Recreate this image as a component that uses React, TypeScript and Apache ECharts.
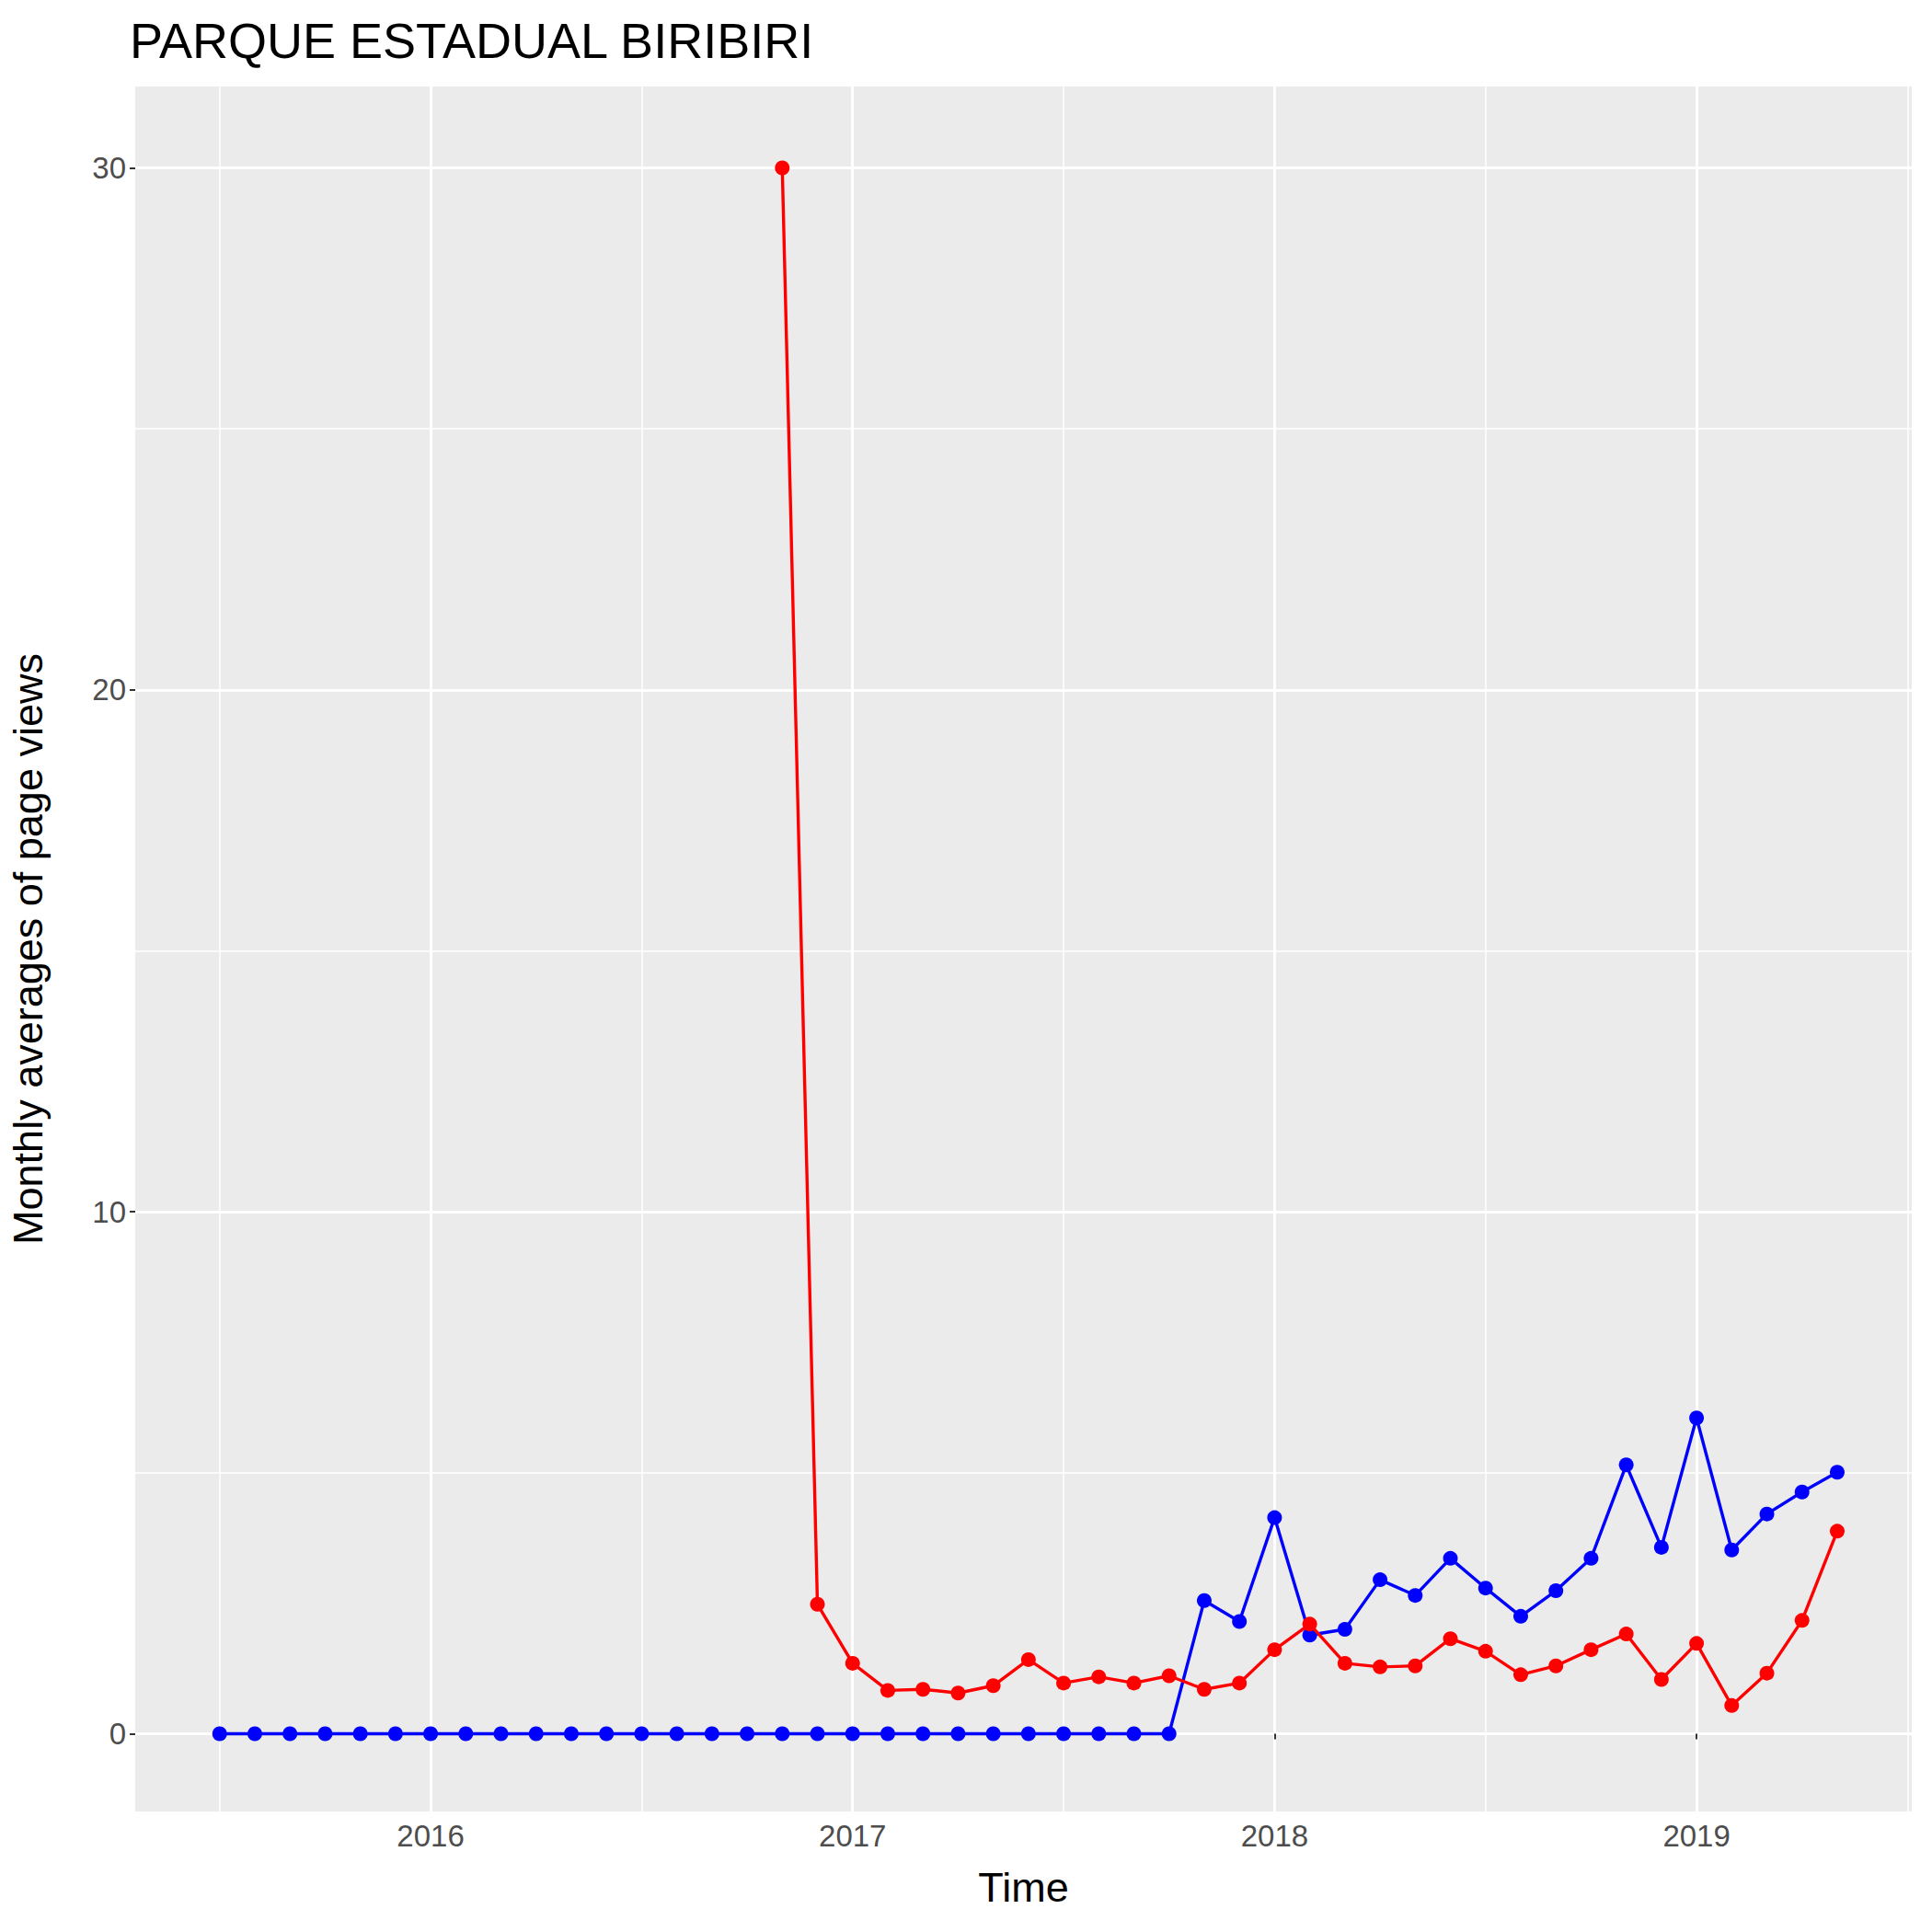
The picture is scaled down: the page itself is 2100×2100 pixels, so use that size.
import React, { useEffect, useRef } from "react";
import * as echarts from "echarts";

const blueMonths = ["2015-07","2015-08","2015-09","2015-10","2015-11","2015-12","2016-01","2016-02","2016-03","2016-04","2016-05","2016-06","2016-07","2016-08","2016-09","2016-10","2016-11","2016-12","2017-01","2017-02","2017-03","2017-04","2017-05","2017-06","2017-07","2017-08","2017-09","2017-10","2017-11","2017-12","2018-01","2018-02","2018-03","2018-04","2018-05","2018-06","2018-07","2018-08","2018-09","2018-10","2018-11","2018-12","2019-01","2019-02","2019-03","2019-04","2019-05"];
const blueValues = [0,0,0,0,0,0,0,0,0,0,0,0,0,0,0,0,0,0,0,0,0,0,0,0,0,0,0,0,2.55,2.15,4.14,1.89,2.0,2.95,2.65,3.36,2.79,2.25,2.74,3.36,5.15,3.57,6.05,3.52,4.21,4.63,5.01];
const redMonths = blueMonths.slice(16);
const redValues = [30,2.48,1.35,0.83,0.85,0.78,0.92,1.42,0.97,1.09,0.97,1.11,0.85,0.97,1.61,2.1,1.35,1.28,1.3,1.82,1.58,1.13,1.3,1.61,1.91,1.04,1.73,0.54,1.16,2.17,3.88];
const xTicks = [2016, 2017, 2018, 2019];
const xMinor = [2015.5, 2016.5, 2017.5, 2018.5, 2019.5];
const yTicks = [0, 10, 20, 30];
const yMinor = [5, 15, 25];

const toX = (m: string) => { const [y, mo] = m.split("-").map(Number); return y + (mo - 1) / 12; };

export default function App() {
  const ref = useRef<HTMLDivElement>(null);
  useEffect(() => {
    document.body.style.margin = "0";
    const chart = echarts.init(ref.current!, null, { renderer: "svg" });
    const font = "Liberation Sans, Arial, sans-serif";
    const gl = (v: number[], axis: "x" | "y", w: number) =>
      v.map((val) => ({ [axis === "x" ? "xAxis" : "yAxis"]: val, lineStyle: { color: "#fff", width: w, type: "solid" } }));
    chart.setOption({
      animation: false,
      title: { text: "PARQUE ESTADUAL BIRIBIRI", left: 136, top: 12, textStyle: { fontFamily: font, fontWeight: "normal", fontSize: 54, color: "#000" } },
      grid: { left: 139, right: 22, top: 94, bottom: 131, show: true, backgroundColor: "#EBEBEB", borderWidth: 0 },
      xAxis: {
        type: "value", min: 2015.3, max: 2019.51,
        name: "Time", nameLocation: "middle", nameGap: 60,
        nameTextStyle: { fontFamily: font, fontSize: 45, color: "#000" },
        axisLine: { show: false }, splitLine: { show: false },
        axisTick: { show: true, customValues: xTicks, length: 6, lineStyle: { color: "#333", width: 2 } },
        axisLabel: { customValues: xTicks, fontFamily: font, fontSize: 33, color: "#4D4D4D", margin: 10, formatter: (v: number) => String(Math.round(v)) },
      },
      yAxis: {
        type: "value", min: -1.49, max: 31.56,
        name: "Monthly averages of page views", nameLocation: "middle", nameGap: 94,
        nameTextStyle: { fontFamily: font, fontSize: 45, color: "#000" },
        axisLine: { show: false }, splitLine: { show: false },
        axisTick: { show: true, customValues: yTicks, length: 6, lineStyle: { color: "#333", width: 2 } },
        axisLabel: { customValues: yTicks, fontFamily: font, fontSize: 33, color: "#4D4D4D", margin: 10 },
      },
      series: [
        {
          type: "line", data: [], silent: true, z: 0, zlevel: 0,
          markLine: { silent: true, symbol: "none", label: { show: false }, z: 0,
            data: [...gl(xMinor, "x", 1.5), ...gl(yMinor, "y", 1.5), ...gl(xTicks, "x", 3), ...gl(yTicks, "y", 3)] },
        },
        {
          type: "line", z: 5, data: blueMonths.map((m, i) => [toX(m), blueValues[i]]),
          symbol: "circle", symbolSize: 16, itemStyle: { color: "#0000FF" }, lineStyle: { color: "#0000FF", width: 3.4 },
        },
        {
          type: "line", z: 6, data: redMonths.map((m, i) => [toX(m), redValues[i]]),
          symbol: "circle", symbolSize: 16, itemStyle: { color: "#FF0000" }, lineStyle: { color: "#FF0000", width: 3.4 },
        },
      ],
    });
    return () => chart.dispose();
  }, []);
  return <div ref={ref} style={{ width: 2100, height: 2100 }} />;
}
